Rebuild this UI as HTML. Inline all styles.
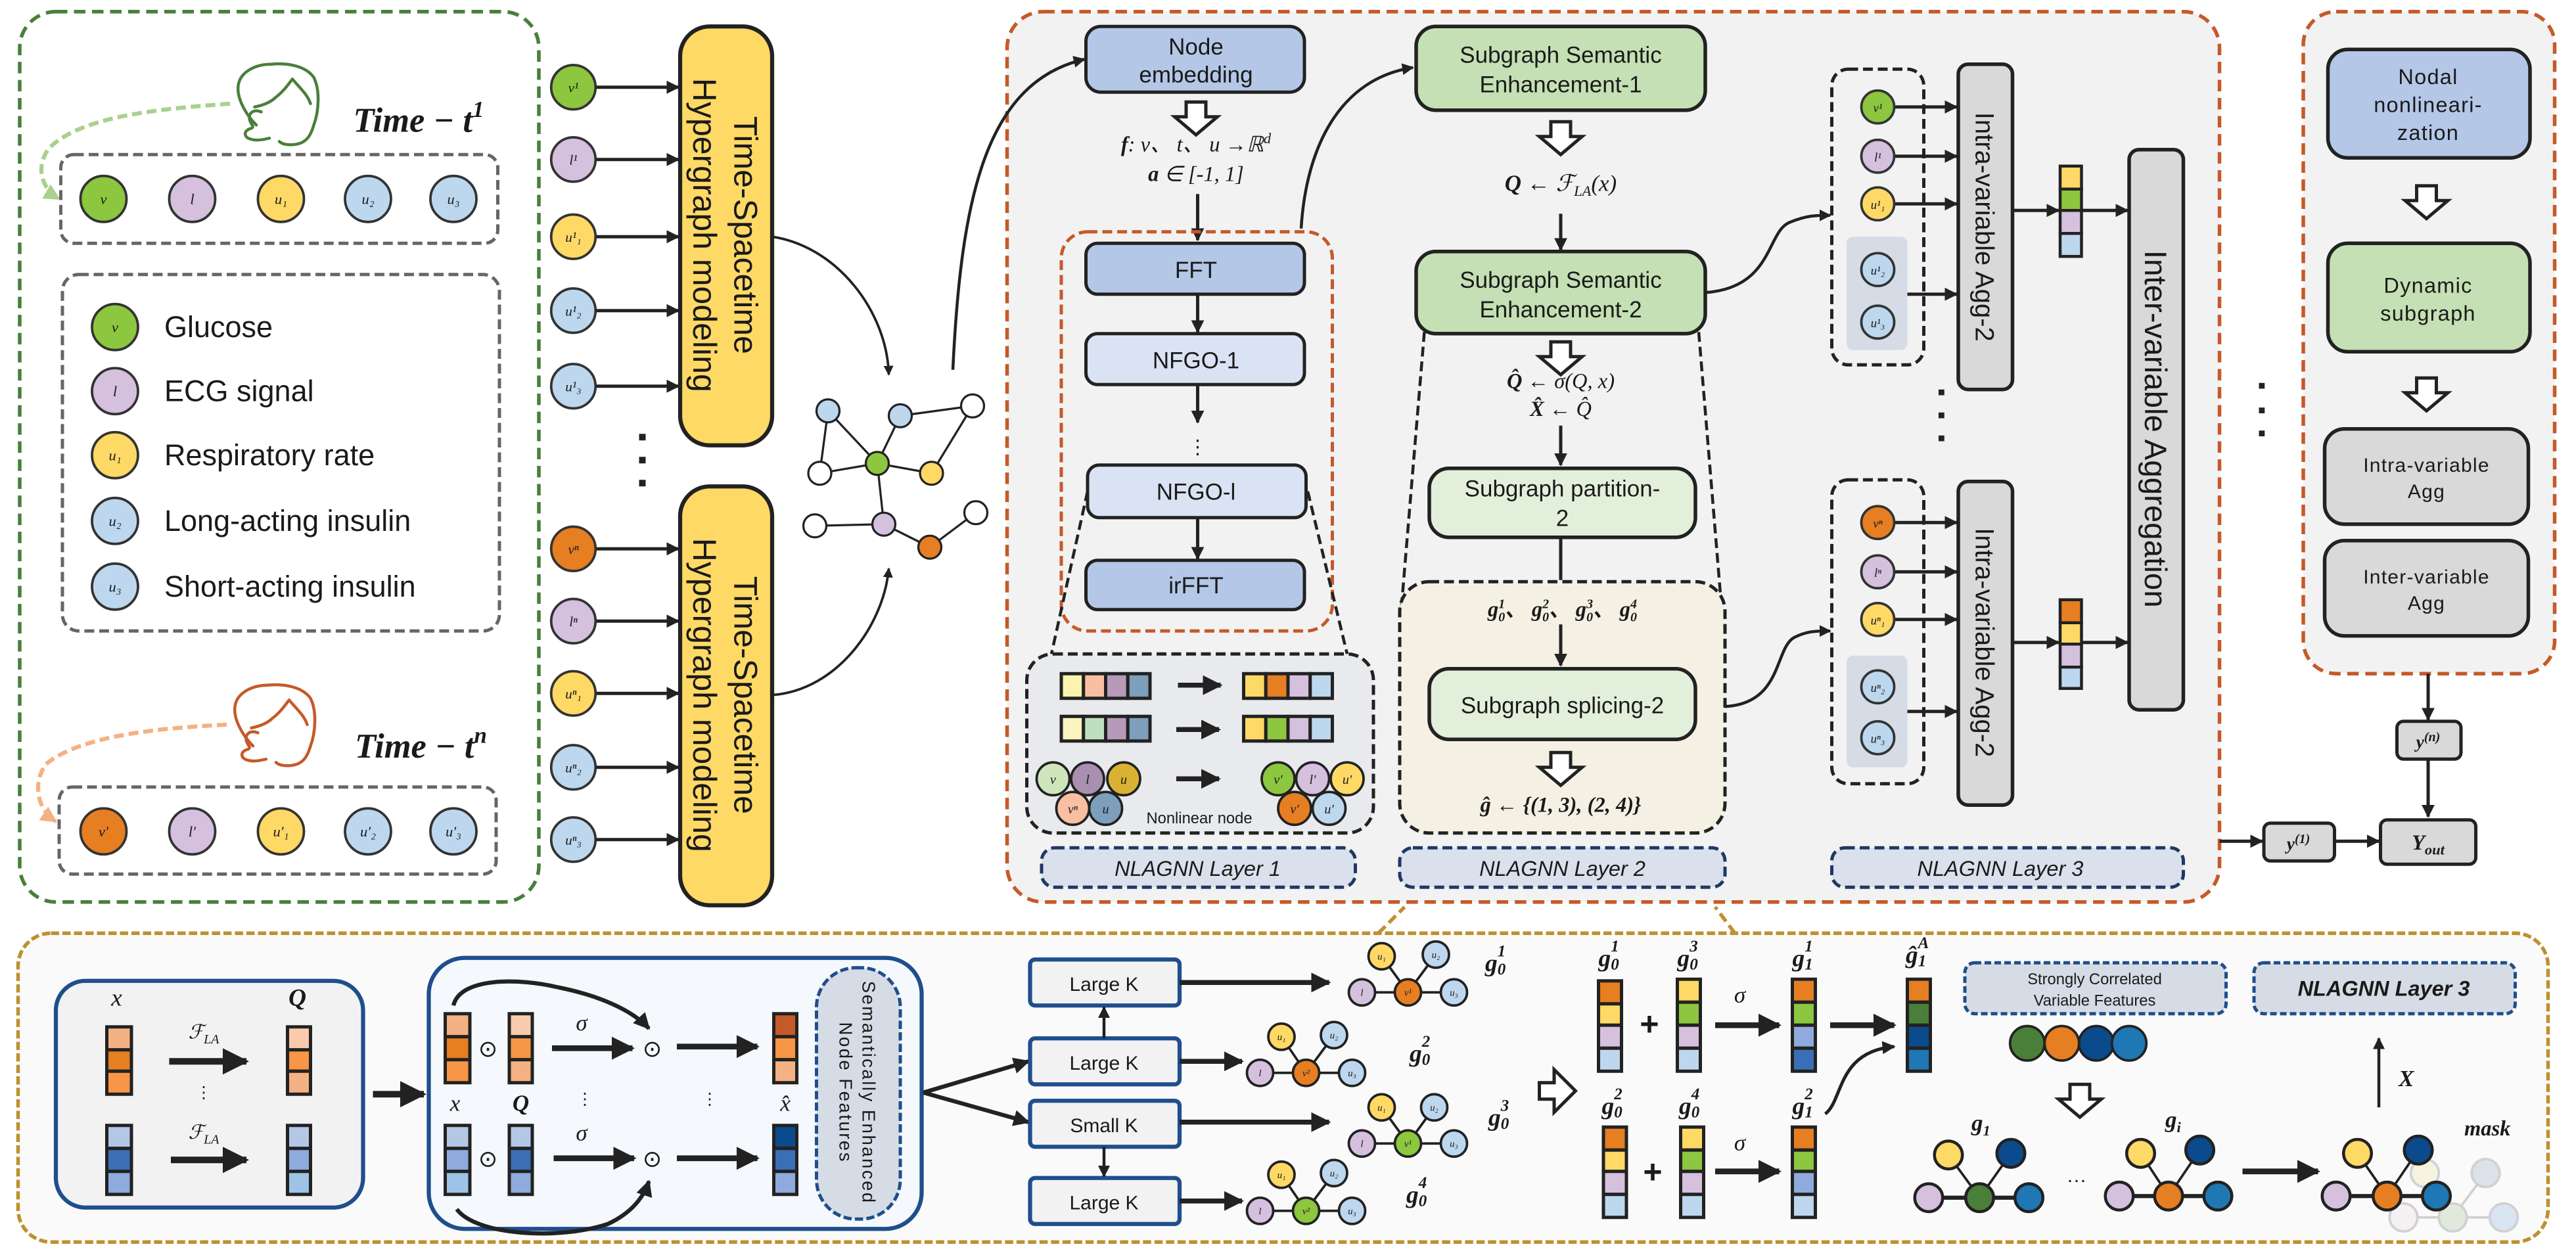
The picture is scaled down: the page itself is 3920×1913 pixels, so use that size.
<!DOCTYPE html>
<html><head><meta charset="utf-8"><style>
html,body{margin:0;padding:0;background:#fff;}
svg{display:block;}
.s{font-family:"Liberation Sans",sans-serif;fill:#1a1a1a;}
.m{font-family:"Liberation Serif",serif;font-style:italic;fill:#1a1a1a;}
.mb{font-family:"Liberation Serif",serif;font-style:italic;font-weight:bold;fill:#1a1a1a;}
</style></head><body>
<svg width="3920" height="1913" viewBox="0 0 1568 765" xmlns="http://www.w3.org/2000/svg">
<defs>
<marker id="ah" viewBox="0 0 10 10" refX="9" refY="5" markerWidth="4" markerHeight="4" orient="auto"><path d="M0,0L10,5L0,10z" fill="#222"/></marker>
<marker id="ahg" viewBox="0 0 10 10" refX="9" refY="5" markerWidth="4" markerHeight="4" orient="auto"><path d="M0,0L10,5L0,10z" fill="#a9d18e"/></marker>
<marker id="aho" viewBox="0 0 10 10" refX="9" refY="5" markerWidth="4" markerHeight="4" orient="auto"><path d="M0,0L10,5L0,10z" fill="#f4b183"/></marker>
<symbol id="hd" overflow="visible"><path d="M-6,0H6V9H13L0,20L-13,9H-6Z" fill="#fff" stroke="#222" stroke-width="2"/></symbol>
<symbol id="hr" overflow="visible"><path d="M0,-5V5H9V13L22,0L9,-13V-5Z" fill="#fff" stroke="#222" stroke-width="2"/></symbol>
<symbol id="face" overflow="visible"><g fill="none" stroke-width="1.8" stroke-linejoin="round" stroke-linecap="round">
<path d="M156,76 C150,70 144,60 145,52 C146,44 155,39 165,39 C175,38 186,40 191,47 C195,55 194,68 191,76 C189,83 186,88 177,88 C173,88 171,87 170,86"/>
<path d="M155,65 C160,64 165,62 168,59 C172,56 175,52 178,48 C182,53 187,57 189,63"/>
<path d="M159,68 C154,66 151,69 152,73 C153,76 155,77 153,78 C149,79 148,82 151,84 C155,86 160,85 164,84"/>
</g></symbol>
</defs>

<!-- LEFT GREEN PANEL -->
<rect x="12" y="7" width="316" height="542" rx="22" fill="#fff" stroke="#4a7f3a" stroke-width="2.2" stroke-dasharray="7 4"/>
<use href="#face" x="0" y="0" stroke="#4a7f3a"/>
<path d="M140,63 C100,66 50,70 30,90 C22,100 24,114 36,121" fill="none" stroke="#a9d18e" stroke-width="2.5" stroke-dasharray="6 3" marker-end="url(#ahg)"/>
<text x="215" y="80" class="mb" font-size="21">Time − t<tspan font-size="14" dy="-9">1</tspan></text>
<rect x="37" y="94" width="266" height="54" rx="8" fill="none" stroke="#666" stroke-width="2" stroke-dasharray="6 3"/>
<g stroke="#333" stroke-width="1.5">
<circle cx="63" cy="121" r="14" fill="#8dc63f"/><circle cx="117" cy="121" r="14" fill="#d5c0de"/><circle cx="171" cy="121" r="14" fill="#ffd966"/><circle cx="224" cy="121" r="14" fill="#bdd7ee"/><circle cx="276" cy="121" r="14" fill="#bdd7ee"/>
</g>
<g class="m" font-size="9" text-anchor="middle"><text x="63" y="124">v</text><text x="117" y="124">l</text><text x="171" y="124">u₁</text><text x="224" y="124">u₂</text><text x="276" y="124">u₃</text></g>
<rect x="38" y="167" width="266" height="217" rx="10" fill="none" stroke="#666" stroke-width="2" stroke-dasharray="6 3"/>
<g stroke="#333" stroke-width="1.5">
<circle cx="70" cy="199" r="14" fill="#8dc63f"/><circle cx="70" cy="238" r="14" fill="#d5c0de"/><circle cx="70" cy="277" r="14" fill="#ffd966"/><circle cx="70" cy="317" r="14" fill="#bdd7ee"/><circle cx="70" cy="357" r="14" fill="#bdd7ee"/>
</g>
<g class="m" font-size="9" text-anchor="middle"><text x="70" y="202">v</text><text x="70" y="241">l</text><text x="70" y="280">u₁</text><text x="70" y="320">u₂</text><text x="70" y="360">u₃</text></g>
<g class="s" font-size="18"><text x="100" y="205">Glucose</text><text x="100" y="244">ECG signal</text><text x="100" y="283">Respiratory rate</text><text x="100" y="323">Long-acting insulin</text><text x="100" y="363">Short-acting insulin</text></g>
<use href="#face" x="-2" y="378" stroke="#c55a28"/>
<path d="M138,441 C100,443 50,447 28,465 C20,476 22,492 34,500" fill="none" stroke="#f4b183" stroke-width="2.5" stroke-dasharray="6 3" marker-end="url(#aho)"/>
<text x="216" y="461" class="mb" font-size="21">Time − t<tspan font-size="14" dy="-9">n</tspan></text>
<rect x="36" y="479" width="266" height="53" rx="8" fill="none" stroke="#666" stroke-width="2" stroke-dasharray="6 3"/>
<g stroke="#333" stroke-width="1.5">
<circle cx="63" cy="506" r="14" fill="#e67e22"/><circle cx="117" cy="506" r="14" fill="#d5c0de"/><circle cx="171" cy="506" r="14" fill="#ffd966"/><circle cx="224" cy="506" r="14" fill="#bdd7ee"/><circle cx="276" cy="506" r="14" fill="#bdd7ee"/>
</g>
<g class="m" font-size="9" text-anchor="middle"><text x="63" y="509">v′</text><text x="117" y="509">l′</text><text x="171" y="509">u′₁</text><text x="224" y="509">u′₂</text><text x="276" y="509">u′₃</text></g>

<!-- variable column -->
<g stroke="#333" stroke-width="1.5">
<circle cx="349" cy="53" r="13.5" fill="#8dc63f"/><circle cx="349" cy="97" r="13.5" fill="#d5c0de"/><circle cx="349" cy="144" r="13.5" fill="#ffd966"/><circle cx="349" cy="189" r="13.5" fill="#bdd7ee"/><circle cx="349" cy="235" r="13.5" fill="#bdd7ee"/>
<circle cx="349" cy="334" r="13.5" fill="#e67e22"/><circle cx="349" cy="378" r="13.5" fill="#d5c0de"/><circle cx="349" cy="422" r="13.5" fill="#ffd966"/><circle cx="349" cy="467" r="13.5" fill="#bdd7ee"/><circle cx="349" cy="511" r="13.5" fill="#bdd7ee"/>
</g>
<g class="m" font-size="8.5" text-anchor="middle">
<text x="349" y="56">v¹</text><text x="349" y="100">l¹</text><text x="349" y="147">u¹₁</text><text x="349" y="192">u¹₂</text><text x="349" y="238">u¹₃</text>
<text x="349" y="337">vⁿ</text><text x="349" y="381">lⁿ</text><text x="349" y="425">uⁿ₁</text><text x="349" y="470">uⁿ₂</text><text x="349" y="514">uⁿ₃</text>
</g>
<g stroke="#222" stroke-width="2" marker-end="url(#ah)">
<line x1="363" y1="53" x2="413" y2="53"/><line x1="363" y1="97" x2="413" y2="97"/><line x1="363" y1="144" x2="413" y2="144"/><line x1="363" y1="189" x2="413" y2="189"/><line x1="363" y1="235" x2="413" y2="235"/>
<line x1="363" y1="334" x2="413" y2="334"/><line x1="363" y1="378" x2="413" y2="378"/><line x1="363" y1="422" x2="413" y2="422"/><line x1="363" y1="467" x2="413" y2="467"/><line x1="363" y1="511" x2="413" y2="511"/>
</g>
<g fill="#222"><rect x="389" y="264" width="4" height="4"/><rect x="389" y="278" width="4" height="4"/><rect x="389" y="292" width="4" height="4"/></g>
<rect x="414" y="16" width="56" height="255" rx="18" fill="#ffd966" stroke="#222" stroke-width="2.5"/>
<rect x="414" y="296" width="56" height="255" rx="18" fill="#ffd966" stroke="#222" stroke-width="2.5"/>
<g class="s" font-size="20" text-anchor="middle">
<g transform="translate(442,143) rotate(90)"><text x="0" y="-5">Time-Spacetime</text><text x="0" y="20">Hypergraph modeling</text></g>
<g transform="translate(442,423) rotate(90)"><text x="0" y="-5">Time-Spacetime</text><text x="0" y="20">Hypergraph modeling</text></g>
</g>
<!-- graph -->
<g stroke="#222" stroke-width="1.5" fill="none">
<path d="M470,144 C510,150 540,190 541,228" marker-end="url(#ah)"/>
<path d="M470,423 C510,420 538,380 541,346" marker-end="url(#ah)"/>
</g>
<g stroke="#222" stroke-width="1.3">
<line x1="504" y1="250" x2="499" y2="288"/><line x1="504" y1="250" x2="534" y2="282"/><line x1="548" y1="253" x2="592" y2="247"/><line x1="548" y1="253" x2="534" y2="282"/><line x1="592" y1="247" x2="567" y2="288"/><line x1="499" y1="288" x2="534" y2="282"/><line x1="534" y1="282" x2="567" y2="288"/><line x1="534" y1="282" x2="538" y2="319"/><line x1="496" y1="320" x2="538" y2="319"/><line x1="538" y1="319" x2="566" y2="333"/><line x1="566" y1="333" x2="594" y2="312"/>
</g>
<g stroke="#222" stroke-width="1.3">
<circle cx="504" cy="250" r="7" fill="#bdd7ee"/><circle cx="548" cy="253" r="7" fill="#bdd7ee"/><circle cx="592" cy="247" r="7" fill="#fff"/><circle cx="499" cy="288" r="7" fill="#fff"/><circle cx="534" cy="282" r="7" fill="#8dc63f"/><circle cx="567" cy="288" r="7" fill="#ffd966"/><circle cx="496" cy="320" r="7" fill="#fff"/><circle cx="538" cy="319" r="7" fill="#d5c0de"/><circle cx="566" cy="333" r="7" fill="#e67e22"/><circle cx="594" cy="312" r="7" fill="#fff"/>
</g>

<!-- BIG ORANGE PANEL -->
<rect x="613" y="7" width="738" height="542" rx="22" fill="#f2f2f2" stroke="#c55a28" stroke-width="2.2" stroke-dasharray="7 4"/>
<path d="M580,225 C585,120 600,50 660,36" fill="none" stroke="#222" stroke-width="1.8" marker-end="url(#ah)"/>
<!-- Layer 1 -->
<rect x="661" y="16" width="133" height="40" rx="9" fill="#b4c7e7" stroke="#222" stroke-width="2"/>
<text x="728" y="33" class="s" font-size="14" text-anchor="middle">Node</text><text x="728" y="50" class="s" font-size="14" text-anchor="middle">embedding</text>
<use href="#hd" x="728" y="62"/>
<text x="728" y="92" class="m" font-size="13" text-anchor="middle"><tspan font-weight="bold">f</tspan>: v、 t、 u →ℝ<tspan dy="-5" font-size="9">d</tspan></text>
<text x="728" y="110" class="m" font-size="13" text-anchor="middle"><tspan font-weight="bold">a</tspan> ∈ [-1, 1]</text>
<line x1="729" y1="118" x2="729" y2="146" stroke="#222" stroke-width="2" marker-end="url(#ah)"/>
<rect x="646" y="141" width="165" height="243" rx="16" fill="none" stroke="#c55a28" stroke-width="2" stroke-dasharray="6 3"/>
<rect x="661" y="148" width="133" height="31" rx="7" fill="#b4c7e7" stroke="#222" stroke-width="2"/>
<text x="728" y="169" class="s" font-size="14" text-anchor="middle">FFT</text>
<line x1="729" y1="179" x2="729" y2="202" stroke="#222" stroke-width="2" marker-end="url(#ah)"/>
<rect x="661" y="203" width="133" height="31" rx="7" fill="#dae3f3" stroke="#222" stroke-width="2"/>
<text x="728" y="224" class="s" font-size="14" text-anchor="middle">NFGO-1</text>
<line x1="729" y1="234" x2="729" y2="257" stroke="#222" stroke-width="2" marker-end="url(#ah)"/>
<text x="729" y="276" class="s" font-size="12" text-anchor="middle">⋮</text>
<rect x="662" y="283" width="133" height="32" rx="7" fill="#dae3f3" stroke="#222" stroke-width="2"/>
<text x="728" y="304" class="s" font-size="14" text-anchor="middle">NFGO-l</text>
<line x1="729" y1="315" x2="729" y2="340" stroke="#222" stroke-width="2" marker-end="url(#ah)"/>
<rect x="661" y="341" width="133" height="30" rx="7" fill="#b4c7e7" stroke="#222" stroke-width="2"/>
<text x="728" y="361" class="s" font-size="14" text-anchor="middle">irFFT</text>
<g stroke="#222" stroke-width="1.8" stroke-dasharray="6 3" fill="none">
<line x1="662" y1="299" x2="640" y2="398"/><line x1="796" y1="299" x2="820" y2="398"/>
</g>
<rect x="625" y="398" width="211" height="109" rx="16" fill="#e8eaed" stroke="#222" stroke-width="2" stroke-dasharray="6 3"/>
<g stroke="#222" stroke-width="2">
<rect x="646" y="410" width="13.5" height="15" fill="#fbf3b0"/><rect x="659.5" y="410" width="13.5" height="15" fill="#f9bfa3"/><rect x="673" y="410" width="13.5" height="15" fill="#b69ab8"/><rect x="686.5" y="410" width="13.5" height="15" fill="#7d9fbc"/>
<rect x="757" y="410" width="13.5" height="15" fill="#ffd966"/><rect x="770.5" y="410" width="13.5" height="15" fill="#e67e22"/><rect x="784" y="410" width="13.5" height="15" fill="#d5c0de"/><rect x="797.5" y="410" width="13.5" height="15" fill="#bdd7ee"/>
<rect x="646" y="436" width="13.5" height="15" fill="#fbf3c0"/><rect x="659.5" y="436" width="13.5" height="15" fill="#bfe0bf"/><rect x="673" y="436" width="13.5" height="15" fill="#b69ab8"/><rect x="686.5" y="436" width="13.5" height="15" fill="#7d9fbc"/>
<rect x="757" y="436" width="13.5" height="15" fill="#ffd966"/><rect x="770.5" y="436" width="13.5" height="15" fill="#8dc63f"/><rect x="784" y="436" width="13.5" height="15" fill="#d5c0de"/><rect x="797.5" y="436" width="13.5" height="15" fill="#bdd7ee"/>
</g>
<g stroke="#222" stroke-width="3" marker-end="url(#ah)"><line x1="717" y1="417" x2="743" y2="417"/><line x1="716" y1="444" x2="742" y2="444"/><line x1="716" y1="474" x2="742" y2="474"/></g>
<g stroke="#222" stroke-width="1.5">
<circle cx="641" cy="474" r="10" fill="#cfe6bd"/><circle cx="662" cy="474" r="10" fill="#a98fb0"/><circle cx="684" cy="474" r="10" fill="#d9b233"/><circle cx="653" cy="492" r="10" fill="#f9bfa3"/><circle cx="673" cy="492" r="10" fill="#7d9fbc"/>
<circle cx="778" cy="474" r="10" fill="#8dc63f"/><circle cx="799" cy="474" r="10" fill="#d5c0de"/><circle cx="820" cy="474" r="10" fill="#ffd966"/><circle cx="788" cy="492" r="10" fill="#e67e22"/><circle cx="809" cy="492" r="10" fill="#bdd7ee"/>
</g>
<g class="m" font-size="8" text-anchor="middle"><text x="641" y="477">v</text><text x="662" y="477">l</text><text x="684" y="477">u</text><text x="653" y="495">vⁿ</text><text x="673" y="495">u</text><text x="778" y="477">v′</text><text x="799" y="477">l′</text><text x="820" y="477">u′</text><text x="788" y="495">v′</text><text x="809" y="495">u′</text></g>
<text x="730" y="501" class="s" font-size="9.5" text-anchor="middle">Nonlinear node</text>
<rect x="634" y="516" width="191" height="24" rx="8" fill="#dae1ec" stroke="#1f3864" stroke-width="2" stroke-dasharray="6 3"/>
<text x="729" y="533" class="s" font-size="13" font-style="italic" text-anchor="middle">NLAGNN Layer 1</text>
<path d="M792,139 C795,90 815,48 860,41" fill="none" stroke="#222" stroke-width="1.8" marker-end="url(#ah)"/>

<!-- Layer 2 -->
<rect x="862" y="16" width="176" height="51" rx="12" fill="#c5e0b4" stroke="#222" stroke-width="2.2"/>
<text x="950" y="38" class="s" font-size="14" text-anchor="middle">Subgraph Semantic</text><text x="950" y="56" class="s" font-size="14" text-anchor="middle">Enhancement-1</text>
<use href="#hd" x="950" y="74"/>
<text x="950" y="116" class="m" font-size="14" text-anchor="middle"><tspan font-weight="bold">Q</tspan> ← ℱ<tspan font-size="9" dy="3">LA</tspan><tspan dy="-3">(x)</tspan></text>
<line x1="950" y1="130" x2="950" y2="152" stroke="#222" stroke-width="2" marker-end="url(#ah)"/>
<rect x="862" y="153" width="176" height="50" rx="12" fill="#c5e0b4" stroke="#222" stroke-width="2.2"/>
<text x="950" y="175" class="s" font-size="14" text-anchor="middle">Subgraph Semantic</text><text x="950" y="193" class="s" font-size="14" text-anchor="middle">Enhancement-2</text>
<g stroke="#222" stroke-width="1.8" stroke-dasharray="6 3" fill="none"><line x1="867" y1="202" x2="853" y2="370"/><line x1="1034" y1="202" x2="1048" y2="371"/></g>
<use href="#hd" x="950" y="208"/>
<text x="950" y="236" class="m" font-size="13" text-anchor="middle"><tspan font-weight="bold">Q̂</tspan> ← σ(Q, x)</text>
<text x="950" y="253" class="m" font-size="13" text-anchor="middle"><tspan font-weight="bold">X̂</tspan> ← Q̂</text>
<line x1="950" y1="259" x2="950" y2="283" stroke="#222" stroke-width="2" marker-end="url(#ah)"/>
<rect x="870" y="285" width="162" height="42" rx="12" fill="#e2efda" stroke="#222" stroke-width="2.2"/>
<text x="951" y="302" class="s" font-size="14" text-anchor="middle">Subgraph partition-</text><text x="951" y="320" class="s" font-size="14" text-anchor="middle">2</text>
<line x1="950" y1="327" x2="950" y2="353" stroke="#222" stroke-width="2"/>
<rect x="852" y="354" width="198" height="153" rx="18" fill="#f4f1e4" stroke="#222" stroke-width="2" stroke-dasharray="6 3"/>
<text x="951" y="375" class="mb" font-size="13" text-anchor="middle">g<tspan font-size="8" dy="3">0</tspan><tspan font-size="8" dy="-8" dx="-4">1</tspan><tspan dy="5">、 g</tspan><tspan font-size="8" dy="3">0</tspan><tspan font-size="8" dy="-8" dx="-4">2</tspan><tspan dy="5">、 g</tspan><tspan font-size="8" dy="3">0</tspan><tspan font-size="8" dy="-8" dx="-4">3</tspan><tspan dy="5">、 g</tspan><tspan font-size="8" dy="3">0</tspan><tspan font-size="8" dy="-8" dx="-4">4</tspan></text>
<line x1="950" y1="380" x2="950" y2="405" stroke="#222" stroke-width="2" marker-end="url(#ah)"/>
<rect x="870" y="407" width="162" height="43" rx="12" fill="#e2efda" stroke="#222" stroke-width="2.2"/>
<text x="951" y="434" class="s" font-size="14" text-anchor="middle">Subgraph  splicing-2</text>
<use href="#hd" x="950" y="458"/>
<text x="950" y="494" class="mb" font-size="13" text-anchor="middle">ĝ ← {(1, 3), (2, 4)}</text>
<rect x="852" y="516" width="198" height="24" rx="8" fill="#dae1ec" stroke="#1f3864" stroke-width="2" stroke-dasharray="6 3"/>
<text x="951" y="533" class="s" font-size="13" font-style="italic" text-anchor="middle">NLAGNN Layer 2</text>
<path d="M1038,178 C1080,175 1075,140 1090,135 C1100,131 1105,131 1114,131" fill="none" stroke="#222" stroke-width="1.8" marker-end="url(#ah)"/>
<path d="M1050,430 C1085,428 1080,395 1092,388 C1100,384 1105,384 1114,384" fill="none" stroke="#222" stroke-width="1.8" marker-end="url(#ah)"/>

<!-- Layer 3 -->
<rect x="1115" y="42" width="56" height="180" rx="10" fill="none" stroke="#222" stroke-width="2" stroke-dasharray="6 3"/>
<rect x="1124" y="144" width="37" height="69" rx="4" fill="#d6dce5"/>
<rect x="1115" y="292" width="56" height="185" rx="10" fill="none" stroke="#222" stroke-width="2" stroke-dasharray="6 3"/>
<rect x="1124" y="399" width="37" height="68" rx="4" fill="#d6dce5"/>
<g stroke="#222" stroke-width="2" marker-end="url(#ah)">
<line x1="1150" y1="65" x2="1191" y2="65"/><line x1="1150" y1="95" x2="1191" y2="95"/><line x1="1150" y1="124" x2="1191" y2="124"/><line x1="1161" y1="179" x2="1191" y2="179"/>
<line x1="1150" y1="318" x2="1191" y2="318"/><line x1="1150" y1="348" x2="1191" y2="348"/><line x1="1150" y1="377" x2="1191" y2="377"/><line x1="1161" y1="433" x2="1191" y2="433"/>
</g>
<g stroke="#333" stroke-width="1.5">
<circle cx="1143" cy="65" r="10" fill="#8dc63f"/><circle cx="1143" cy="95" r="10" fill="#d5c0de"/><circle cx="1143" cy="124" r="10" fill="#ffd966"/><circle cx="1143" cy="164" r="10" fill="#bdd7ee"/><circle cx="1143" cy="196" r="10" fill="#bdd7ee"/>
<circle cx="1143" cy="318" r="10" fill="#e67e22"/><circle cx="1143" cy="348" r="10" fill="#d5c0de"/><circle cx="1143" cy="377" r="10" fill="#ffd966"/><circle cx="1143" cy="418" r="10" fill="#bdd7ee"/><circle cx="1143" cy="449" r="10" fill="#bdd7ee"/>
</g>
<g class="m" font-size="7.5" text-anchor="middle">
<text x="1143" y="68">v¹</text><text x="1143" y="98">l¹</text><text x="1143" y="127">u¹₁</text><text x="1143" y="167">u¹₂</text><text x="1143" y="199">u¹₃</text>
<text x="1143" y="321">vⁿ</text><text x="1143" y="351">lⁿ</text><text x="1143" y="380">uⁿ₁</text><text x="1143" y="421">uⁿ₂</text><text x="1143" y="452">uⁿ₃</text>
</g>
<g fill="#222"><rect x="1180" y="237" width="3.5" height="3.5"/><rect x="1180" y="251" width="3.5" height="3.5"/><rect x="1180" y="265" width="3.5" height="3.5"/></g>
<rect x="1192" y="39" width="33" height="198" rx="6" fill="#d9d9d9" stroke="#222" stroke-width="2.2"/>
<rect x="1192" y="293" width="33" height="197" rx="6" fill="#d9d9d9" stroke="#222" stroke-width="2.2"/>
<g class="s" font-size="16" text-anchor="middle">
<text transform="translate(1208.5,138) rotate(90)" x="0" y="6">Intra-variable Agg-2</text>
<text transform="translate(1208.5,391) rotate(90)" x="0" y="6">Intra-variable Agg-2</text>
</g>
<g stroke="#222" stroke-width="2" marker-end="url(#ah)">
<line x1="1225" y1="128" x2="1253" y2="128"/><line x1="1267" y1="128" x2="1295" y2="128"/>
<line x1="1225" y1="391" x2="1253" y2="391"/><line x1="1267" y1="391" x2="1295" y2="391"/>
</g>
<g stroke="#222" stroke-width="1.8">
<rect x="1254" y="101" width="13" height="14" fill="#ffd966"/><rect x="1254" y="115" width="13" height="13" fill="#8dc63f"/><rect x="1254" y="128" width="13" height="14" fill="#d5c0de"/><rect x="1254" y="142" width="13" height="14" fill="#bdd7ee"/>
<rect x="1254" y="365" width="13" height="14" fill="#e67e22"/><rect x="1254" y="379" width="13" height="13" fill="#ffd966"/><rect x="1254" y="392" width="13" height="14" fill="#d5c0de"/><rect x="1254" y="406" width="13" height="13" fill="#bdd7ee"/>
</g>
<rect x="1296" y="91" width="33" height="341" rx="6" fill="#d9d9d9" stroke="#222" stroke-width="2.2"/>
<text transform="translate(1312.5,261) rotate(90)" x="0" y="7" class="s" font-size="19" text-anchor="middle">Inter-variable Aggregation</text>
<rect x="1115" y="516" width="214" height="24" rx="8" fill="#dae1ec" stroke="#1f3864" stroke-width="2" stroke-dasharray="6 3"/>
<text x="1167" y="533" class="s" font-size="13" font-style="italic">NLAGNN Layer 3</text>
<g fill="#222"><rect x="1375" y="233" width="3.5" height="3.5"/><rect x="1375" y="248" width="3.5" height="3.5"/><rect x="1375" y="262" width="3.5" height="3.5"/></g>

<!-- RIGHT PANEL -->
<rect x="1402" y="7" width="153" height="403" rx="20" fill="#f2f2f2" stroke="#c55a28" stroke-width="2.2" stroke-dasharray="7 4"/>
<rect x="1417" y="30" width="123" height="66" rx="12" fill="#b4c7e7" stroke="#222" stroke-width="2.2"/>
<g class="s" font-size="13" text-anchor="middle" letter-spacing="0.5"><text x="1478" y="51">Nodal</text><text x="1478" y="68">nonlineari-</text><text x="1478" y="85">zation</text></g>
<use href="#hd" x="1477" y="113"/>
<rect x="1417" y="148" width="123" height="66" rx="12" fill="#c5e0b4" stroke="#222" stroke-width="2.2"/>
<g class="s" font-size="13" text-anchor="middle" letter-spacing="0.5"><text x="1478" y="178">Dynamic</text><text x="1478" y="195">subgraph</text></g>
<use href="#hd" x="1477" y="230"/>
<rect x="1415" y="261" width="124" height="58" rx="12" fill="#d9d9d9" stroke="#222" stroke-width="2.2"/>
<g class="s" font-size="12" text-anchor="middle" letter-spacing="0.5"><text x="1477" y="287">Intra-variable</text><text x="1477" y="303">Agg</text></g>
<rect x="1415" y="329" width="124" height="58" rx="12" fill="#d9d9d9" stroke="#222" stroke-width="2.2"/>
<g class="s" font-size="12" text-anchor="middle" letter-spacing="0.5"><text x="1477" y="355">Inter-variable</text><text x="1477" y="371">Agg</text></g>
<line x1="1478" y1="410" x2="1478" y2="438" stroke="#222" stroke-width="2" marker-end="url(#ah)"/>
<rect x="1459" y="439" width="39" height="23" rx="4" fill="#d9d9d9" stroke="#222" stroke-width="2"/>
<text x="1478" y="455" class="mb" font-size="11" text-anchor="middle">y<tspan font-size="8" dy="-4">(n)</tspan></text>
<line x1="1478" y1="462" x2="1478" y2="497" stroke="#222" stroke-width="2" marker-end="url(#ah)"/>
<rect x="1449" y="499" width="58" height="27" rx="4" fill="#d9d9d9" stroke="#222" stroke-width="2"/>
<text x="1478" y="517" class="mb" font-size="13" text-anchor="middle">Y<tspan font-size="9" dy="3">out</tspan></text>
<rect x="1378" y="501" width="43" height="23" rx="4" fill="#d9d9d9" stroke="#222" stroke-width="2"/>
<text x="1399" y="517" class="mb" font-size="11" text-anchor="middle">y<tspan font-size="8" dy="-4">(1)</tspan></text>
<line x1="1351" y1="512" x2="1377" y2="512" stroke="#222" stroke-width="2" marker-end="url(#ah)"/>
<line x1="1421" y1="512" x2="1448" y2="512" stroke="#222" stroke-width="2" marker-end="url(#ah)"/>

<!-- BOTTOM GOLD PANEL -->
<path d="M839,568 L855,552 M1056,568 L1044,552" stroke="#bf9030" stroke-width="2.2" stroke-dasharray="6 3" fill="none"/>
<rect x="11" y="568" width="1540" height="188" rx="20" fill="#fafafa" stroke="#bf9030" stroke-width="2.2" stroke-dasharray="5 2"/>
<!-- box A -->
<rect x="34" y="597" width="187" height="138" rx="18" fill="#f2f2f2" stroke="#1f4e8c" stroke-width="2.5"/>
<text x="71" y="612" class="m" font-size="15" text-anchor="middle">x</text>
<text x="181" y="612" class="m" font-size="15" font-weight="bold" text-anchor="middle">Q</text>
<g stroke="#222" stroke-width="2">
<rect x="65" y="625" width="15" height="14" fill="#f4b183"/><rect x="65" y="639" width="15" height="13" fill="#e67e22"/><rect x="65" y="652" width="15" height="14" fill="#f79646"/>
<rect x="175" y="625" width="14" height="14" fill="#f8cbad"/><rect x="175" y="639" width="14" height="13" fill="#f79646"/><rect x="175" y="652" width="14" height="14" fill="#f4b183"/>
<rect x="65" y="685" width="15" height="14" fill="#b4c7e7"/><rect x="65" y="699" width="15" height="14" fill="#3a6fb5"/><rect x="65" y="713" width="15" height="14" fill="#8faadc"/>
<rect x="175" y="685" width="14" height="14" fill="#b4c7e7"/><rect x="175" y="699" width="14" height="14" fill="#8faadc"/><rect x="175" y="713" width="14" height="14" fill="#9dc3e6"/>
</g>
<text x="124" y="632" class="m" font-size="12" text-anchor="middle">ℱ<tspan font-size="8" dy="3">LA</tspan></text>
<text x="124" y="693" class="m" font-size="12" text-anchor="middle">ℱ<tspan font-size="8" dy="3">LA</tspan></text>
<g stroke="#222" stroke-width="4" marker-end="url(#ah)"><line x1="103" y1="646" x2="150" y2="646"/><line x1="104" y1="706" x2="150" y2="706"/><line x1="227" y1="666" x2="258" y2="666"/></g>
<text x="124" y="668" class="s" font-size="10" text-anchor="middle">⋮</text>
<!-- box B -->
<rect x="261" y="583" width="300" height="165" rx="22" fill="#f5f8fc" stroke="#1f4e8c" stroke-width="2.5"/>
<g stroke="#222" stroke-width="2">
<rect x="271" y="617" width="15" height="14" fill="#f4b183"/><rect x="271" y="631" width="15" height="14" fill="#e67e22"/><rect x="271" y="645" width="15" height="14" fill="#f79646"/>
<rect x="310" y="617" width="14" height="14" fill="#f8cbad"/><rect x="310" y="631" width="14" height="14" fill="#f79646"/><rect x="310" y="645" width="14" height="14" fill="#f4b183"/>
<rect x="471" y="617" width="14" height="14" fill="#c55a28"/><rect x="471" y="631" width="14" height="14" fill="#f79646"/><rect x="471" y="645" width="14" height="14" fill="#f4b183"/>
<rect x="271" y="685" width="15" height="14" fill="#b4c7e7"/><rect x="271" y="699" width="15" height="14" fill="#8faadc"/><rect x="271" y="713" width="15" height="14" fill="#9dc3e6"/>
<rect x="310" y="685" width="14" height="14" fill="#b4c7e7"/><rect x="310" y="699" width="14" height="14" fill="#3a6fb5"/><rect x="310" y="713" width="14" height="14" fill="#8faadc"/>
<rect x="471" y="685" width="14" height="14" fill="#0b4a8c"/><rect x="471" y="699" width="14" height="14" fill="#3a6fb5"/><rect x="471" y="713" width="14" height="14" fill="#8faadc"/>
</g>
<g class="s" font-size="14" text-anchor="middle"><text x="297" y="643">⊙</text><text x="397" y="643">⊙</text><text x="297" y="710">⊙</text><text x="397" y="710">⊙</text></g>
<g class="m" font-size="14" text-anchor="middle"><text x="354" y="627">σ</text><text x="354" y="694">σ</text><text x="277" y="676">x</text><text x="317" y="676" font-weight="bold">Q</text><text x="478" y="676">x̂</text></g>
<g class="s" font-size="10" text-anchor="middle"><text x="356" y="672">⋮</text><text x="432" y="672">⋮</text></g>
<g stroke="#222" stroke-width="3.5" marker-end="url(#ah)"><line x1="336" y1="638" x2="385" y2="638"/><line x1="412" y1="637" x2="461" y2="637"/><line x1="337" y1="705" x2="386" y2="705"/><line x1="412" y1="705" x2="461" y2="705"/></g>
<g stroke="#222" stroke-width="2.5" fill="none" marker-end="url(#ah)">
<path d="M276,612 C280,595 315,595 340,601 C365,606 385,615 395,626"/>
<path d="M278,736 C290,752 340,755 370,745 C385,738 392,728 395,719"/>
</g>
<rect x="497" y="589" width="51" height="153" rx="24" fill="#d6dce5" stroke="#1f4e8c" stroke-width="2" stroke-dasharray="5 2"/>
<g class="s" font-size="11" text-anchor="middle" letter-spacing="1">
<text transform="translate(522,665) rotate(90)" x="0" y="-3">Semantically Enhanced</text>
<text transform="translate(522,665) rotate(90)" x="0" y="11">Node Features</text>
</g>
<!-- K boxes -->
<g stroke="#222" stroke-width="2.5" fill="none"><line x1="562" y1="665" x2="626" y2="646" marker-end="url(#ah)"/><line x1="562" y1="665" x2="626" y2="683" marker-end="url(#ah)"/></g>
<g fill="#f2f2f2" stroke="#1f4e8c" stroke-width="2.5">
<rect x="627" y="584" width="91" height="28" rx="3"/><rect x="627" y="632" width="91" height="28" rx="3"/><rect x="627" y="670" width="91" height="28" rx="3"/><rect x="627" y="717" width="91" height="28" rx="3"/>
</g>
<g class="s" font-size="12" text-anchor="middle"><text x="672" y="603">Large K</text><text x="672" y="651">Large K</text><text x="672" y="689">Small K</text><text x="672" y="736">Large K</text></g>
<g stroke="#222" stroke-width="1.8" marker-end="url(#ah)"><line x1="672" y1="632" x2="672" y2="613"/><line x1="672" y1="698" x2="672" y2="716"/></g>
<g stroke="#222" stroke-width="3"><line x1="718" y1="598" x2="809" y2="598" marker-end="url(#ah)"/><line x1="718" y1="646" x2="756" y2="646" marker-end="url(#ah)"/><line x1="718" y1="683" x2="809" y2="683" marker-end="url(#ah)"/><line x1="718" y1="731" x2="756" y2="731" marker-end="url(#ah)"/></g>
<!-- small graphs -->
<g stroke="#222" stroke-width="1.5">
<line x1="841" y1="582" x2="857" y2="604"/><line x1="874" y1="581" x2="857" y2="604"/><line x1="829" y1="604" x2="885" y2="604"/>
<line x1="780" y1="631" x2="795" y2="653"/><line x1="812" y1="630" x2="795" y2="653"/><line x1="767" y1="653" x2="823" y2="653"/>
<line x1="841" y1="674" x2="857" y2="696"/><line x1="873" y1="674" x2="857" y2="696"/><line x1="829" y1="696" x2="885" y2="696"/>
<line x1="780" y1="715" x2="795" y2="737"/><line x1="812" y1="714" x2="795" y2="737"/><line x1="767" y1="737" x2="823" y2="737"/>
</g>
<g stroke="#222" stroke-width="1.5">
<circle cx="841" cy="582" r="8" fill="#ffd966"/><circle cx="874" cy="581" r="8" fill="#bdd7ee"/><circle cx="829" cy="604" r="8" fill="#d5c0de"/><circle cx="857" cy="604" r="8" fill="#e67e22"/><circle cx="885" cy="604" r="8" fill="#bdd7ee"/>
<circle cx="780" cy="631" r="8" fill="#ffd966"/><circle cx="812" cy="630" r="8" fill="#bdd7ee"/><circle cx="767" cy="653" r="8" fill="#d5c0de"/><circle cx="795" cy="653" r="8" fill="#e67e22"/><circle cx="823" cy="653" r="8" fill="#bdd7ee"/>
<circle cx="841" cy="674" r="8" fill="#ffd966"/><circle cx="873" cy="674" r="8" fill="#bdd7ee"/><circle cx="829" cy="696" r="8" fill="#d5c0de"/><circle cx="857" cy="696" r="8" fill="#8dc63f"/><circle cx="885" cy="696" r="8" fill="#bdd7ee"/>
<circle cx="780" cy="715" r="8" fill="#ffd966"/><circle cx="812" cy="714" r="8" fill="#bdd7ee"/><circle cx="767" cy="737" r="8" fill="#d5c0de"/><circle cx="795" cy="737" r="8" fill="#8dc63f"/><circle cx="823" cy="737" r="8" fill="#bdd7ee"/>
</g>
<g class="m" font-size="6" text-anchor="middle">
<text x="841" y="584">u₁</text><text x="874" y="583">u₂</text><text x="829" y="606">l</text><text x="857" y="606">v¹</text><text x="885" y="606">u₃</text>
<text x="812" y="632">u₂</text><text x="795" y="655">v²</text><text x="823" y="655">u₃</text><text x="767" y="655">l</text><text x="780" y="633">u₁</text>
<text x="841" y="676">u₁</text><text x="873" y="676">u₂</text><text x="829" y="698">l</text><text x="857" y="698">v¹</text><text x="885" y="698">u₃</text>
<text x="812" y="716">u₂</text><text x="795" y="739">v²</text><text x="823" y="739">u₃</text><text x="767" y="739">l</text><text x="780" y="717">u₁</text>
</g>
<g class="mb" font-size="15">
<text x="904" y="591">g<tspan font-size="10" dy="2">0</tspan><tspan font-size="10" dy="-11" dx="-5">1</tspan></text>
<text x="858" y="646">g<tspan font-size="10" dy="2">0</tspan><tspan font-size="10" dy="-11" dx="-5">2</tspan></text>
<text x="906" y="685">g<tspan font-size="10" dy="2">0</tspan><tspan font-size="10" dy="-11" dx="-5">3</tspan></text>
<text x="856" y="732">g<tspan font-size="10" dy="2">0</tspan><tspan font-size="10" dy="-11" dx="-5">4</tspan></text>
</g>
<use href="#hr" x="937" y="664"/>
<!-- stacks -->
<g stroke="#222" stroke-width="2">
<rect x="973" y="597" width="14" height="14" fill="#e67e22"/><rect x="973" y="611" width="14" height="13" fill="#ffd966"/><rect x="973" y="624" width="14" height="14" fill="#d5c0de"/><rect x="973" y="638" width="14" height="14" fill="#bdd7ee"/>
<rect x="1021" y="596" width="14" height="14" fill="#ffd966"/><rect x="1021" y="610" width="14" height="14" fill="#8dc63f"/><rect x="1021" y="624" width="14" height="14" fill="#d5c0de"/><rect x="1021" y="638" width="14" height="14" fill="#bdd7ee"/>
<rect x="1091" y="596" width="14" height="14" fill="#e67e22"/><rect x="1091" y="610" width="14" height="14" fill="#8dc63f"/><rect x="1091" y="624" width="14" height="14" fill="#8faadc"/><rect x="1091" y="638" width="14" height="14" fill="#3a6fb5"/>
<rect x="1161" y="596" width="14" height="14" fill="#e67e22"/><rect x="1161" y="610" width="14" height="14" fill="#4a7f3a"/><rect x="1161" y="624" width="14" height="14" fill="#0b4a8c"/><rect x="1161" y="638" width="14" height="14" fill="#1f77b4"/>
<rect x="976" y="686" width="14" height="14" fill="#e67e22"/><rect x="976" y="700" width="14" height="13" fill="#ffd966"/><rect x="976" y="713" width="14" height="14" fill="#d5c0de"/><rect x="976" y="727" width="14" height="14" fill="#bdd7ee"/>
<rect x="1023" y="686" width="14" height="14" fill="#ffd966"/><rect x="1023" y="700" width="14" height="13" fill="#8dc63f"/><rect x="1023" y="713" width="14" height="14" fill="#d5c0de"/><rect x="1023" y="727" width="14" height="14" fill="#bdd7ee"/>
<rect x="1091" y="686" width="14" height="14" fill="#e67e22"/><rect x="1091" y="700" width="14" height="13" fill="#8dc63f"/><rect x="1091" y="713" width="14" height="14" fill="#8faadc"/><rect x="1091" y="727" width="14" height="14" fill="#bdd7ee"/>
</g>
<g class="s" font-size="20" font-weight="bold" text-anchor="middle"><text x="1004" y="630">+</text><text x="1006" y="720">+</text></g>
<g class="m" font-size="14" text-anchor="middle"><text x="1059" y="610">σ</text><text x="1059" y="700">σ</text></g>
<g stroke="#222" stroke-width="3.5" marker-end="url(#ah)"><line x1="1044" y1="624" x2="1083" y2="624"/><line x1="1114" y1="624" x2="1153" y2="624"/><line x1="1044" y1="713" x2="1083" y2="713"/></g>
<path d="M1111,678 C1122,670 1118,640 1153,637" fill="none" stroke="#222" stroke-width="2" marker-end="url(#ah)"/>
<g class="mb" font-size="15">
<text x="973" y="588">g<tspan font-size="10" dy="2">0</tspan><tspan font-size="10" dy="-11" dx="-5">1</tspan></text>
<text x="1021" y="588">g<tspan font-size="10" dy="2">0</tspan><tspan font-size="10" dy="-11" dx="-5">3</tspan></text>
<text x="1091" y="588">g<tspan font-size="10" dy="2">1</tspan><tspan font-size="10" dy="-11" dx="-5">1</tspan></text>
<text x="1160" y="586">ĝ<tspan font-size="10" dy="2">1</tspan><tspan font-size="10" dy="-11" dx="-5">A</tspan></text>
<text x="975" y="678">g<tspan font-size="10" dy="2">0</tspan><tspan font-size="10" dy="-11" dx="-5">2</tspan></text>
<text x="1022" y="678">g<tspan font-size="10" dy="2">0</tspan><tspan font-size="10" dy="-11" dx="-5">4</tspan></text>
<text x="1091" y="678">g<tspan font-size="10" dy="2">1</tspan><tspan font-size="10" dy="-11" dx="-5">2</tspan></text>
</g>
<!-- right bottom -->
<rect x="1196" y="586" width="159" height="31" rx="6" fill="#d6dce5" stroke="#1f4e8c" stroke-width="2" stroke-dasharray="4 2"/>
<text x="1275" y="599" class="s" font-size="9.5" text-anchor="middle">Strongly Correlated</text>
<text x="1275" y="612" class="s" font-size="9.5" text-anchor="middle">Variable Features</text>
<rect x="1372" y="586" width="159" height="31" rx="6" fill="#d6dce5" stroke="#1f4e8c" stroke-width="2" stroke-dasharray="4 2"/>
<text x="1451" y="606" class="s" font-size="13" font-weight="bold" font-style="italic" text-anchor="middle">NLAGNN Layer 3</text>
<g stroke="#222" stroke-width="1.5">
<circle cx="1234" cy="635" r="10.5" fill="#4a7f3a"/><circle cx="1255" cy="635" r="10.5" fill="#e67e22"/><circle cx="1276" cy="635" r="10.5" fill="#0b4a8c"/><circle cx="1296" cy="635" r="10.5" fill="#1f77b4"/>
</g>
<use href="#hd" x="1266" y="660"/>
<g class="mb" font-size="14"><text x="1200" y="688">g<tspan font-size="9" dy="3">1</tspan></text><text x="1318" y="686">g<tspan font-size="9" dy="3">i</tspan></text></g>
<text x="1500" y="691" class="mb" font-size="13">mask</text>
<text x="1264" y="722" class="s" font-size="12" text-anchor="middle">···</text>
<line x1="1365" y1="713" x2="1411" y2="713" stroke="#222" stroke-width="3.5" marker-end="url(#ah)"/>
<line x1="1448" y1="674" x2="1448" y2="632" stroke="#222" stroke-width="1.8" marker-end="url(#ah)"/>
<text x="1460" y="661" class="mb" font-size="14">X</text>
<!-- faded -->
<g stroke="#c8c8c8" stroke-width="1.5" opacity="0.8">
<line x1="1463" y1="741" x2="1524" y2="741"/><line x1="1493" y1="741" x2="1513" y2="714"/><line x1="1476" y1="714" x2="1493" y2="741"/>
<circle cx="1476" cy="714" r="8.5" fill="#f6f1d8"/><circle cx="1513" cy="714" r="8.5" fill="#d5dbe8"/><circle cx="1463" cy="741" r="8.5" fill="#f3eef3"/><circle cx="1493" cy="741" r="8.5" fill="#dbe6d5"/><circle cx="1524" cy="741" r="8.5" fill="#d2e1ee"/>
</g>
<g stroke="#222" stroke-width="1.5">
<line x1="1186" y1="703" x2="1205" y2="729"/><line x1="1224" y1="702" x2="1205" y2="729"/><line x1="1174" y1="729" x2="1235" y2="729" stroke-width="2.5"/>
<line x1="1303" y1="702" x2="1320" y2="728"/><line x1="1339" y1="700" x2="1320" y2="728"/><line x1="1290" y1="728" x2="1350" y2="728" stroke-width="2.5"/>
<line x1="1435" y1="702" x2="1453" y2="728"/><line x1="1472" y1="700" x2="1453" y2="728"/><line x1="1422" y1="728" x2="1483" y2="728" stroke-width="2.5"/>
</g>
<g stroke="#222" stroke-width="1.8">
<circle cx="1186" cy="703" r="8.5" fill="#ffd966"/><circle cx="1224" cy="702" r="8.5" fill="#0b4a8c"/><circle cx="1174" cy="729" r="8.5" fill="#d5c0de"/><circle cx="1205" cy="729" r="8.5" fill="#4a7f3a"/><circle cx="1235" cy="729" r="8.5" fill="#1f77b4"/>
<circle cx="1303" cy="702" r="8.5" fill="#ffd966"/><circle cx="1339" cy="700" r="8.5" fill="#0b4a8c"/><circle cx="1290" cy="728" r="8.5" fill="#d5c0de"/><circle cx="1320" cy="728" r="8.5" fill="#e67e22"/><circle cx="1350" cy="728" r="8.5" fill="#1f77b4"/>
<circle cx="1435" cy="702" r="8.5" fill="#ffd966"/><circle cx="1472" cy="700" r="8.5" fill="#0b4a8c"/><circle cx="1422" cy="728" r="8.5" fill="#d5c0de"/><circle cx="1453" cy="728" r="8.5" fill="#e67e22"/><circle cx="1483" cy="728" r="8.5" fill="#1f77b4"/>
</g>
</svg>
</body></html>
